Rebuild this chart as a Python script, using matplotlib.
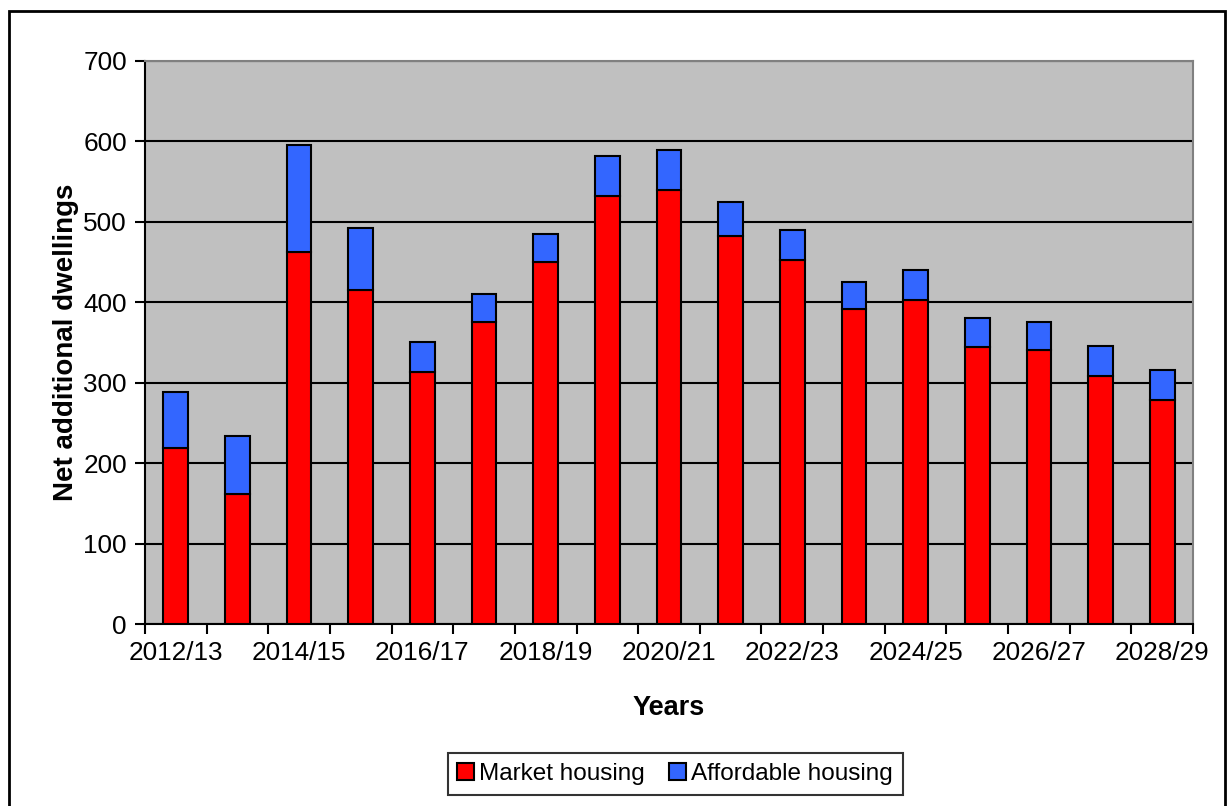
import matplotlib.pyplot as plt
from matplotlib.patches import Rectangle
import numpy as np

plt.rcParams['font.family'] = ['Liberation Sans', 'DejaVu Sans']

years = ['2012/13', '2013/14', '2014/15', '2015/16', '2016/17', '2017/18',
         '2018/19', '2019/20', '2020/21', '2021/22', '2022/23', '2023/24',
         '2024/25', '2025/26', '2026/27', '2027/28', '2028/29']
market = [219, 162, 463, 415, 313, 375, 450, 532, 540, 483, 452, 392,
          403, 345, 341, 308, 279]
affordable = [70, 72, 133, 77, 37, 35, 35, 50, 49, 42, 38, 33,
              37, 36, 35, 38, 37]

fig = plt.figure(figsize=(12.28, 8.06), dpi=100)
ax = fig.add_axes([145 / 1228, 1 - 624 / 806, 1048 / 1228, 563 / 806])
ax.set_facecolor('#C0C0C0')

x = np.arange(len(years))
ax.bar(x, market, width=0.4, color='#FF0000', edgecolor='black',
       linewidth=1.5, label='Market housing', zorder=3)
ax.bar(x, affordable, width=0.4, bottom=market, color='#3366FF',
       edgecolor='black', linewidth=1.5, label='Affordable housing', zorder=3)

ax.set_xlim(-0.5, len(years) - 0.5)
ax.set_ylim(0, 700)
ax.set_yticks(np.arange(0, 701, 100))
ax.yaxis.grid(True, color='black', linewidth=1.5, zorder=1)
ax.set_axisbelow(True)

# tick marks at category boundaries, labels on every other category
ax.set_xticks(np.arange(-0.5, len(years), 1))
ax.set_xticklabels([])
ax.set_xticks(x[::2], minor=True)
ax.set_xticklabels(years[::2], minor=True)
ax.tick_params(axis='x', which='major', direction='out', length=7, width=1.5)
ax.tick_params(axis='x', which='minor', length=0, pad=12, labelsize=18.8)
ax.tick_params(axis='y', direction='out', length=7, width=1.5, labelsize=18.8, pad=6)

for s in ['left', 'bottom']:
    ax.spines[s].set_linewidth(1.5)
    ax.spines[s].set_color('black')
for s in ['top', 'right']:
    ax.spines[s].set_linewidth(1.5)
    ax.spines[s].set_color('#808080')

ax.set_ylabel('Net additional dwellings', fontsize=20, fontweight='bold', labelpad=3)
ax.set_xlabel('Years', fontsize=19.5, fontweight='bold', labelpad=22)

leg = fig.legend(loc='center', bbox_to_anchor=(675 / 1228, 1 - 774 / 806),
                 ncol=2, fontsize=17.5, frameon=True, fancybox=False,
                 edgecolor='black', handlelength=0.7, handleheight=0.7,
                 handletextpad=0.2, columnspacing=1.0, borderpad=0.4)
leg.get_frame().set_linewidth(1.5)

fig.patches.append(Rectangle((9 / 1228, -0.05), 1216 / 1228, 1 - 11 / 806 + 0.05,
                             transform=fig.transFigure, fill=False,
                             edgecolor='black', linewidth=2))

fig.savefig('out.png', dpi=100)
